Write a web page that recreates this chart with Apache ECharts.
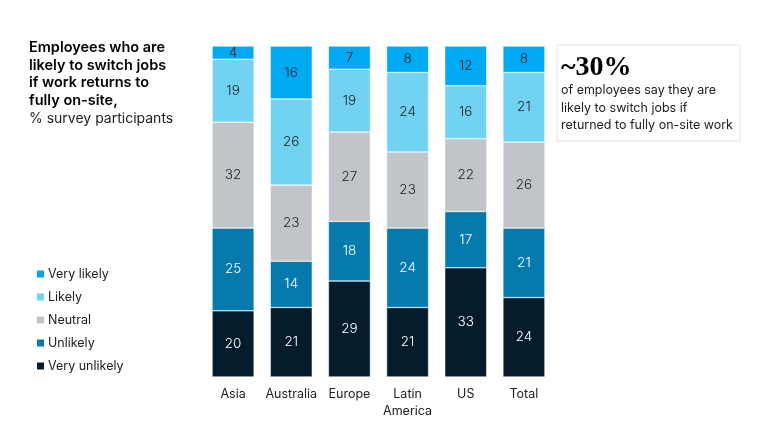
<!DOCTYPE html>
<html>
<head>
<meta charset="utf-8">
<style>
html,body{margin:0;padding:0;background:#fff;}
#chart{width:760px;height:429px;}
</style>
<script src="https://cdn.jsdelivr.net/npm/echarts@6/dist/echarts.min.js"></script>
</head>
<body>
<div id="chart"></div>
<script>
var categories = ['Asia','Australia','Europe','Latin\nAmerica','US','Total'];
var veryUnlikely = [20,21,29,21,33,24];
var unlikely = [25,14,18,24,17,21];
var neutral = [32,23,27,23,22,26];
var likely = [19,26,19,24,16,21];
var veryLikely = [4,16,7,8,12,8];

var font = 'Inter';
var chart = echarts.init(document.getElementById('chart'));

function bar(name,data,color,labelColor){
    return {
        name:name, type:'bar', stack:'a', data:data, barWidth:42,
        itemStyle:{color:color,borderColor:'#fff',borderWidth:0.5},
        label:{show:true,position:'inside',color:labelColor,fontFamily:font,fontSize:13.5,fontWeight:300}
    };
}

var option = {
    animation:false,
    backgroundColor:'#fff',
    textStyle:{fontFamily:font},
    grid:{left:204,top:46,width:349,height:331},
    xAxis:{
        type:'category',data:categories,
        axisLine:{show:false},axisTick:{show:false},
        axisLabel:{color:'#222',fontSize:12.5,fontFamily:font,margin:9,lineHeight:17,interval:0}
    },
    yAxis:{type:'value',min:0,max:100,show:false},
    legend:{
        left:35,top:267,orient:'vertical',padding:0,itemWidth:9,itemHeight:9,itemGap:9,
        icon:'rect',
        data:['Very likely','Likely','Neutral','Unlikely','Very unlikely'],
        textStyle:{color:'#222',fontSize:12.5,fontFamily:font,padding:[0,0,0,-2],height:14,lineHeight:14}
    },
    series:[
        bar('Very unlikely',veryUnlikely,'#051c2c','#fff'),
        bar('Unlikely',unlikely,'#0679ad','#fff'),
        bar('Neutral',neutral,'#c1c5c9','#222'),
        bar('Likely',likely,'#71d2f1','#222'),
        bar('Very likely',veryLikely,'#00a9f4','#222')
    ],
    graphic:[
        {type:'text',left:29,top:39,style:{text:'Employees who are\nlikely to switch jobs\nif work returns to\nfully on-site,',fill:'#000',font:'600 14.5px Inter',lineHeight:17.5}},
        {type:'text',left:29,top:110,style:{text:'% survey participants',fill:'#222',font:'14px Inter',lineHeight:17}},
        {type:'rect',shape:{x:557,y:45,width:183,height:96},style:{fill:'#fff',stroke:'#e6e6e6',lineWidth:1}},
        {type:'text',left:561,top:54,style:{text:'~30%',fill:'#000',font:'bold 28px "Liberation Serif"'}},
        {type:'text',left:561,top:82,style:{text:'of employees say they are\nlikely to switch jobs if\nreturned to fully on-site work',fill:'#222',font:'12.5px Inter',lineHeight:17.3}}
    ]
};
chart.setOption(option);
</script>
</body>
</html>
